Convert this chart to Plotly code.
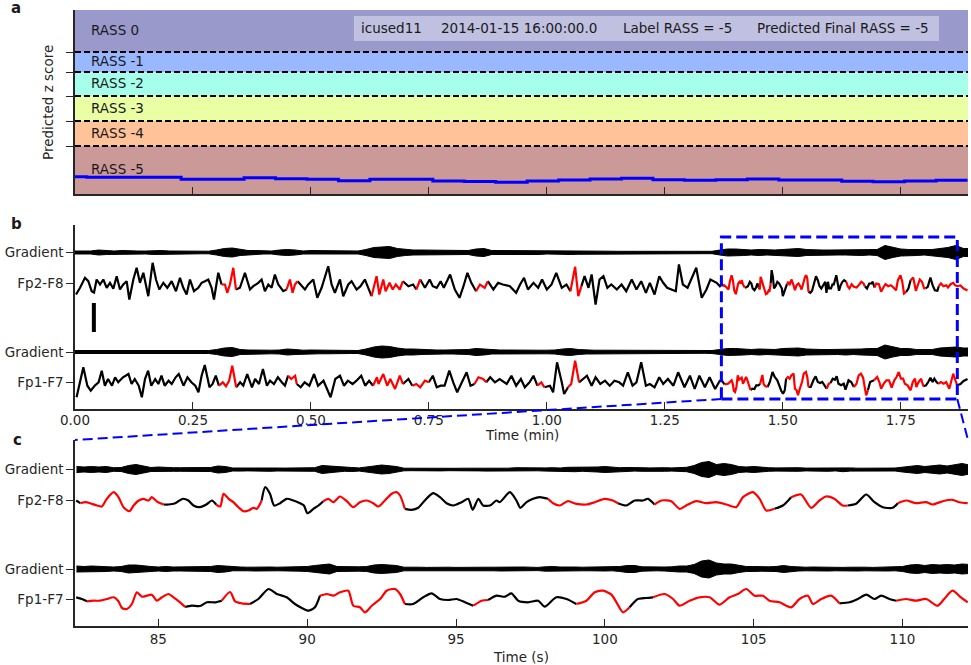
import numpy as np
import plotly.graph_objects as go

W, H = 971, 665
FONT = "DejaVu Sans"
TXT = "#262626"
FS = 13.5

# ---------------- panel a data ----------------
RASS_LABELS = ["RASS 0", "RASS -1", "RASS -2", "RASS -3", "RASS -4", "RASS -5"]
RASS_COLORS = ["#9999CC", "#99B8FF", "#A5FFEA", "#EAFFA4", "#FFC299", "#CC9999"]
Z_BOUNDS = [6.36, 4.68, 3.88, 2.92, 1.92, 0.92, -1.0]   # band edges, top to bottom
Z_LABEL_Y = [5.56, 4.32, 3.44, 2.44, 1.44, 0.0]
Z_STEP_T = [0, 1.5, 5.5, 9.5, 13.5, 17.5, 21.5, 25.5, 29.5, 33.5, 37.5, 41.5, 45.5, 49.5,
            53.5, 57.5, 61.5, 65.5, 69.5, 73.5, 77.5, 81.5, 85.5, 89.5, 93.5, 97.5, 101.5,
            105.5, 109.5]
Z_STEP_V = [-0.31, -0.33, -0.33, -0.33, -0.41, -0.41, -0.35, -0.39, -0.41, -0.47, -0.41,
            -0.41, -0.48, -0.50, -0.53, -0.48, -0.44, -0.40, -0.37, -0.43, -0.45, -0.43,
            -0.40, -0.44, -0.44, -0.49, -0.51, -0.48, -0.45]
T_END = 113.5
INFO_TEXTS = ["icused11", "2014-01-15 16:00:00.0", "Label RASS = -5", "Predicted Final RASS = -5"]

# ---------------- panels b / c data ----------------
CH_NAMES = ["Gradient", "Fp2-F8", "Gradient", "Fp1-F7"]
CH_OFFSETS = [156.5, 125.5, 57, 27]
WIN = (82.2, 112.2)

FP2_B_PRE = [(0.13, -11), (0.64, -4.3), (1.27, 5.7), (1.69, 2.3), (2.12, -7.7), (2.42, -9), (2.75, 4),
             (3.18, -1), (3.60, 4), (4.03, -4.3), (4.45, 0.7), (4.87, -5.3), (5.30, 7.3), (5.72, -6),
             (6.14, -1), (6.57, 2.3), (6.91, -16), (7.42, 4), (7.84, 15.7), (8.26, 0.7), (8.69, 10.7),
             (9.32, -12.7), (9.87, 20.7), (10.30, 4), (10.72, -6), (11.23, 0.7), (11.74, -4.3),
             (12.29, 2.3), (12.84, -7.7), (13.35, 5.7), (13.77, -4.3), (14.19, -11), (14.62, 4),
             (15.13, -7.7), (15.68, -4.3), (16.10, 0.7), (16.53, 2.3), (16.95, 4), (17.37, -4.3),
             (17.67, -16), (18.22, 10.7), (18.64, -1), (19.07, -1), (19.36, -9.3), (19.70, -1),
             (20.13, 15.7), (20.47, -6), (20.97, -4.3), (21.61, 10.7), (22.25, -6), (22.67, -2.7),
             (23.31, 0.7), (23.73, 4), (24.15, -7.7), (24.58, -1), (25.00, -4.3), (25.42, 9),
             (25.85, -1), (26.48, -7.7), (26.91, -6), (27.33, 4), (27.67, -9.3), (27.97, -1),
             (28.31, 2.3), (28.81, -2.7), (29.24, -6), (29.66, -1), (30.30, 4), (30.81, -14.3),
             (31.36, -4.3), (32.20, 17.3), (32.63, -1), (33.05, -9.3), (33.69, 4), (34.11, -12.7),
             (34.75, -1), (35.17, 2.3), (35.81, -6), (36.31, -2.7), (36.86, 4), (37.29, -4.3),
             (37.71, -12.7), (38.35, 7.3),
             (38.7, -11), (39.2, 4), (39.5, -7.7), (40.0, 0.7), (40.4, -6), (40.8, -1), (41.3, -6),
             (41.7, 2.3), (42.4, -2.7), (43.0, -1), (43.4, -6), (43.9, 4), (44.5, -4.3), (45.1, 4),
             (45.5, -2.7), (46.0, -4.3), (46.5, 2.3), (46.9, -4.3), (47.7, 9), (48.3, -6),
             (48.9, -14.3), (49.4, -2.7), (49.9, 10.7), (50.4, 0.7), (51.0, -7.7), (51.5, -1),
             (52.1, -4.3), (52.5, 2.3), (53.2, -6), (53.8, 0.7), (54.4, -1), (55.3, -2.7),
             (56.1, -9.3), (56.6, -1), (57.1, 5.7), (57.6, -6), (58.3, 0.7), (58.9, -4.3), (59.4, 4),
             (60.0, -6), (60.6, -1), (61.2, 10.7), (61.9, -4.3), (62.5, -1), (63.0, -7.7),
             (63.6, 16.7), (64.0, -12.7), (64.4, -2.7), (64.8, 7.3), (65.3, -4.3), (65.7, 9),
             (66.2, -21), (66.7, 4), (67.2, 7.3), (67.7, -4.3), (68.2, -1), (68.9, -6), (69.5, -1),
             (70.1, -7.7), (70.8, 4), (71.4, -6), (72.0, 2.3), (72.6, -9.3), (73.1, 0.7), (73.7, -11),
             (74.3, 7.3), (74.8, 0.7), (75.3, -4.3), (75.8, -6), (76.4, -7.7),
             (76.8, 19), (77.3, -1), (77.9, -4.3), (78.4, 4), (79.0, 15.7), (79.7, -14.3), (80.3, -6),
             (80.8, 4), (81.6, 0.7), (82.0, -2.7)]

FP2_C = [(82.24, 0), (82.38, -2.7), (82.55, -1.7), (82.71, -2.7), (82.94, -5), (83.10, -6), (83.27, 1.7),
         (83.50, 8.3), (83.66, 3.3), (83.83, -6.7), (84.03, -10.7), (84.17, -5), (84.34, 0), (84.50, 1.7),
         (84.67, 0), (84.78, 3.3), (84.95, -1), (85.17, -4), (85.34, -4), (85.57, -2.7), (85.82, 1.7),
         (86.01, 0), (86.18, -5), (86.40, -6.7), (86.61, -4), (86.80, 0), (86.94, -4), (87.08, -6),
         (87.19, 6.7), (87.36, 1.7), (87.52, -1.7), (87.69, -6.7), (87.86, -10.7), (88.03, -10),
         (88.19, -7.3), (88.31, -8.3), (88.47, 0), (88.59, 13.3), (88.75, 6.7), (88.89, -5),
         (89.09, -2.7), (89.31, 1.7), (89.54, 0), (89.76, -2.7), (89.89, -5), (90.01, -12.7),
         (90.21, -8.3), (90.38, -5), (90.54, -0.7), (90.71, 1.7), (90.88, -1.7), (91.10, 4),
         (91.33, -0.7), (91.55, -6.7), (91.77, -1.7), (92.00, 0), (92.22, -2.7), (92.39, -6),
         (92.61, 0), (92.84, 6.7), (93.00, 8.3), (93.12, 5), (93.28, -8.3), (93.51, -9.3),
         (93.73, -7.3), (93.95, 0), (94.23, 7.3), (94.46, 3.3), (94.68, -2.7), (94.91, -5),
         (95.19, -1.7), (95.41, 1.7), (95.56, -9.3), (95.75, 1.7), (95.91, -5), (96.14, -5),
         (96.36, 0), (96.47, -1.7), (96.81, 8.3), (97.03, 0), (97.16, -7.3), (97.37, -1.7),
         (97.59, 1.7), (97.81, 3.3), (98.09, 1.7), (98.26, -2.7), (98.48, -5), (98.76, -0.7),
         (99.04, -3.3), (99.38, -4), (99.66, -1.7), (99.99, 1.7), (100.27, 0), (100.44, -2.7),
         (100.72, -5), (101.00, 0), (101.28, 0), (101.45, 1.7), (101.67, -4), (101.90, 0),
         (102.23, -0.7), (102.51, -8.3), (102.79, -4), (103.07, -0.7), (103.41, -2.7), (103.74, -1.7),
         (104.08, -4), (104.41, -6.7), (104.64, 3.3), (104.97, 8.3), (105.20, 1.7), (105.42, -10),
         (105.70, -8.3), (105.98, -5), (106.26, 3.3), (106.59, 6), (106.93, -7.3), (107.21, 0),
         (107.43, 4), (107.71, 1.7), (107.99, -5), (108.16, -5), (108.44, -3.3), (108.78, 6),
         (109.06, -1.7), (109.34, -6.7), (109.67, -7.3), (109.84, -2.7), (110.12, 0), (110.45, -2.7),
         (110.79, -1.7), (111.01, -4), (111.35, -0.7), (111.68, 0.7), (111.91, -1.7), (112.19, -2.7)]
FP2_B_TAIL = [(112.6, -2), (113.0, -5), (113.5, -7)]

FP1_B_PRE = [(0.2, -15.3), (1.06, 14.7), (1.57, -3.7), (2.0, -8.7), (2.5, -3.7), (3.0, -0.3), (3.4, 11.3),
             (3.8, -3.7), (4.2, 3), (4.7, -3.7), (5.1, 4.7), (5.5, -0.3), (6.1, 4.7), (6.8, 8), (7.2, -2),
             (7.6, 3), (8.1, -3.7), (8.5, -15.3), (8.9, 3), (9.3, 11.3), (9.7, -3.7), (10.2, 3), (10.6, -2),
             (11.0, 6.3), (11.4, -3.7), (11.9, 1.3), (12.3, -2), (12.8, 4.7), (13.2, 8), (13.8, -3.7),
             (14.3, 4.7), (14.8, -0.3), (15.3, -3.7), (15.7, -10.3), (16.1, 6.3), (16.5, 17), (17.1, -5.3),
             (17.5, -2), (17.9, 6.3), (18.3, -3.7), (18.8, -0.3), (19.2, -4.3), (19.6, 1.3), (20.0, 16.3),
             (20.5, -5.3), (21.0, -0.3), (21.4, -3.7), (21.9, 8), (22.5, -5.3), (22.9, 3), (23.4, -2),
             (23.9, 13), (24.4, -3.7), (24.8, 1.3), (25.3, -2), (25.8, 4.7), (26.3, -0.3), (26.7, -3.7),
             (27.1, 6.3), (27.5, 3), (28.0, 6.3), (28.2, -2), (28.7, -5.3), (29.2, -0.3), (29.8, -3.7),
             (30.4, 8), (30.9, -3.7), (31.6, 1.3), (32.0, -7), (32.5, -15.3), (33.1, 3), (33.7, 6.3),
             (34.2, -3.7), (34.7, 1.3), (35.3, -2), (35.8, 1.3), (36.4, 6.3), (36.9, -3.7), (37.4, 1.3),
             (37.9, -3.7), (38.4, 4.7),
             (38.6, -2), (39.2, 8), (39.7, -3.7), (40.1, 3), (40.7, -7), (41.3, 6.3), (41.7, -2), (42.4, 3),
             (42.9, -3.7), (43.4, -2), (43.9, -5.3), (44.5, 1.3), (45.0, -0.3), (45.5, 6.3), (46.0, -5.3),
             (46.5, -3.7), (47.0, -3.7), (47.6, 11.3), (48.1, -0.3), (48.6, -10.3), (49.2, -0.3),
             (49.8, 9.7), (50.3, -3.7), (50.8, -2), (51.3, 4.7), (51.9, 3), (52.3, -0.3), (52.8, 4.7),
             (53.4, -0.3), (54.0, 3), (54.9, -2), (55.5, 6.3), (56.1, -3.7), (56.7, 3), (57.2, -5.3),
             (57.8, -0.3), (58.3, 6.3), (58.8, -3.7), (59.3, -0.3), (59.7, -5.3), (60.4, -3.7),
             (60.8, -10.3), (61.3, 19.7), (61.9, -0.3), (62.2, -12), (62.7, -5.3), (63.1, -2),
             (63.6, 21.3), (64.1, -0.3), (64.6, 3), (65.1, 6.3), (65.7, -3.7), (66.2, 4.7), (66.8, -2),
             (67.4, 1.3), (68.0, -3.7), (68.6, 1.3), (69.2, -0.3), (69.7, -3.7), (70.3, 9.7), (70.9, -3.7),
             (71.4, -0.3), (72.0, 19.7), (72.6, -3.7), (73.1, -2), (73.7, -5.3), (74.3, 4.7), (74.8, -2),
             (75.4, 3), (76.1, -3.7), (76.7, 9.7),
             (77.5, -5.3), (78.2, 6.3), (78.8, -7), (79.4, 6.3), (80.1, -5.3), (80.7, 4.7), (81.4, -7),
             (82.0, 1.3)]

FP1_C = [(82.24, 1.6), (82.43, 0), (82.60, -2.3), (82.83, -1.7), (83.05, -1.7), (83.27, 0), (83.50, 1.7),
         (83.66, -2.3), (83.78, -9), (83.94, -10), (84.11, -5), (84.28, 6.7), (84.45, 2.3), (84.61, 3.3),
         (84.78, 4.3), (84.95, -1.7), (85.12, 1.7), (85.34, 5), (85.51, 1.7), (85.73, -3.3), (85.90, -8),
         (86.12, -6.7), (86.40, -7), (86.63, -3.3), (86.91, -3.3), (87.13, -1.7), (87.41, 7),
         (87.58, -2.3), (87.80, -4.3), (88.08, -5), (88.36, 0), (88.70, 10), (88.98, 5), (89.31, 1.7),
         (89.59, -5), (89.82, -9), (90.04, -11.7), (90.26, -8.3), (90.43, 3.3), (90.66, 5),
         (90.88, 3.3), (91.10, 6.7), (91.38, 8.3), (91.55, -6.7), (91.77, -8.3), (91.94, -13.3),
         (92.17, -6.7), (92.45, 0), (92.67, 8.3), (92.95, 10), (93.12, 5), (93.28, -5), (93.56, -5),
         (93.90, 1.7), (94.18, 5.7), (94.46, 0), (94.74, -1), (95.02, 0), (95.30, -3.3), (95.58, -6.7),
         (95.86, -1.7), (96.08, -1), (96.36, 3.3), (96.64, 2.3), (96.86, 5.7), (97.09, -1.7),
         (97.42, -3.3), (97.76, -1.7), (97.98, -7.7), (98.37, 1.7), (98.71, 0), (99.04, -5),
         (99.38, -1.7), (99.66, 6.7), (99.94, 8.3), (100.22, 4.3), (100.39, -3.3), (100.61, -13.3),
         (100.83, -8.3), (101.11, 0), (101.39, 1), (101.62, 1.7), (102.01, 5), (102.29, 0),
         (102.51, -6.7), (102.85, -1.7), (103.18, 1.7), (103.52, 1.7), (103.85, -5.7), (104.19, 1.7),
         (104.47, 5), (104.75, 10), (105.03, 3.3), (105.31, 3.3), (105.53, -1.7), (105.87, -3.3),
         (106.26, -8.3), (106.54, 0), (106.82, 3.3), (106.99, -5), (107.27, 0), (107.60, 3.3),
         (107.88, -4.3), (108.22, -3.3), (108.50, 0), (108.78, 4.3), (109.06, 0), (109.28, 3.3),
         (109.56, 0), (109.78, -1.7), (110.12, 0), (110.45, -1.7), (110.79, 0), (111.18, -6.7),
         (111.40, 0), (111.68, 8.3), (111.96, 1.7), (112.19, -3.3)]
FP1_B_TAIL = [(112.6, -2), (113.0, 1), (113.5, 3)]

FP2_RED = [(18.6, 20.5), (27.0, 28.3), (37.7, 41.9), (43.4, 44.0), (50.8, 52.5), (63.3, 64.2),
           (82.4, 85.2), (86.95, 88.45), (90.54, 93.28), (98.09, 100.44), (101.67, 105.70),
           (106.26, 108.16), (109.84, 113.5)]
FP1_RED = [(18.5, 20.6), (27.0, 28.2), (37.7, 41.8), (43.0, 45.0), (50.6, 52.4), (58.9, 59.7),
           (62.7, 64.1), (82.6, 85.9), (87.13, 88.1), (90.43, 93.28), (95.65, 96.02), (99.0, 100.75),
           (101.62, 107.88), (109.78, 112.3)]

# gradient envelopes (half-width), panel b: one value per second from 0 s
GRAD1_B_ENV = [1.5, 1.5, 1.5, 2.5, 2, 1.5, 2, 1.5, 1.5, 1.5, 2, 2, 1.5, 1.5, 1.5, 1.5, 1.3, 1.3, 2.5, 4,
               4.5, 3, 2, 2, 1.5, 1.5, 2.5, 3, 2.5, 1.5, 2, 2, 1.5, 1.5, 1.5, 1.5, 1.5, 3, 5, 5.5,
               6, 4, 3, 2.5, 2.5, 2.5, 2, 2, 2, 2, 2, 3.5, 4, 2, 2, 1.8, 1.8, 1.5, 2, 2,
               1.5, 1.5, 1.8, 2, 1.8, 1.5, 1.5, 1.3, 1.3, 1.2, 1.2, 1.2, 1.2, 1.2, 1.2, 1.2, 1.2, 1.2, 1.2, 1.2,
               1.2, 1.2, 2.5, 3.5, 3.5, 3, 2.5, 3, 2.5, 2.5, 3, 3.5, 4, 3, 2.5, 2.5, 2.5, 2.5, 2.5, 2.5,
               3, 2.5, 3, 7, 5, 3.5, 3, 3, 2.5, 3, 4, 5, 7, 4, 4]
GRAD2_B_ENV = [1.5, 1.5, 1.5, 2, 1.8, 1.5, 1.5, 1.5, 1.5, 1.5, 2, 2, 1.5, 1.5, 1.5, 1.5, 1.5, 1.5, 2.5, 4,
               4.5, 2.5, 2, 1.8, 1.8, 1.8, 2, 3, 2.5, 1.8, 2, 1.8, 1.8, 1.8, 1.8, 1.5, 1.5, 3, 5, 6,
               5.5, 4, 3, 3, 2.5, 2.5, 2, 2, 2, 2, 2.5, 3.5, 3, 2, 2, 2, 1.8, 1.8, 1.8, 1.8,
               1.8, 2, 3, 3.5, 2.5, 2, 1.8, 1.8, 1.8, 1.8, 1.8, 1.8, 1.8, 1.5, 1.5, 1.3, 1.3, 1.3, 1.3, 1.3,
               1.3, 1.5, 2.5, 3.5, 3.5, 3, 2.5, 3, 2.5, 2.5, 3.5, 3.5, 4, 3, 2.5, 2.5, 2.5, 2.5, 3, 2.5,
               3, 3.5, 3.5, 7, 5, 3.5, 3.5, 2.5, 2.5, 2.5, 4, 4.5, 5, 4, 4]
GRAD_B_T0, GRAD_B_DT = 0.0, 1.0

# gradient envelopes, panel c: one value per 0.25 s from 82.25 s
GRAD1_C_ENV = [3, 2.5, 3, 2.5, 3, 1.8, 2, 4, 5, 3.5, 2, 2.5, 2, 1.8, 1.8, 1.8, 1.6, 1.8, 2, 3.5, 3,
               1.5, 1.6, 1.4, 1.6, 1.5, 1.8, 1.5, 1.4, 1.6, 1.5, 1.6, 1.8, 4, 3.5, 2.5, 1.8, 2, 1.6, 2.2,
               3.5, 4.5, 4, 3, 1.3, 1.2, 1.2, 1.3, 1.2, 1.4, 1.2, 1.2, 1.3, 1.2, 1.4,
               1.6, 1.4, 1.5, 1.3, 1.8, 1.6, 1.4, 1.3, 1.6, 1.8, 1.5, 2.2, 2.2, 1.8, 1.8, 2.5, 3, 2.2,
               1.8, 2, 1.6, 1.8, 1.6, 2, 1.8, 1.6, 1.8, 2.2, 4, 7, 8, 5, 6, 5, 3, 2.5, 3, 2.2, 1.8,
               1.6, 1.8, 1.5, 1.8, 1.4, 1.5, 1.6, 1.8, 1.4, 2.2, 1.6, 1.3, 1.5, 1.3, 1.6, 1.4, 1.5,
               2.5, 3.5, 4, 3, 4, 4.5, 3.5, 5, 6, 4.5]
GRAD2_C_ENV = [3, 2.5, 3, 2.5, 2.5, 2, 2.5, 4, 4, 3, 2.5, 2, 2.5, 2, 2, 2.3, 2, 2.2, 2.5, 3.5, 3,
               1.8, 2, 1.8, 2, 1.8, 2, 1.8, 1.9, 1.8, 2.2, 2.5, 3.5, 4, 5, 2.5, 2.2, 2.4, 2.2, 2.5,
               4, 4.5, 4, 3.5, 1.8, 2, 1.8, 1.6, 1.8, 2, 1.8, 1.6, 1.8, 2, 1.8,
               1.8, 1.8, 2, 1.8, 1.8, 2, 1.8, 1.6, 2.2, 2.5, 2, 2.2, 2, 1.8, 1.8, 2.2, 2, 1.8,
               2.5, 3.5, 3.5, 2.2, 2, 1.8, 2, 2.2, 3, 3, 4.5, 8, 9, 6, 5, 5, 3.5, 2.5, 2.5, 2.2, 2.2,
               2.5, 3.5, 2.5, 2, 1.8, 2, 1.8, 2, 1.8, 1.6, 1.8, 2, 1.8, 1.6, 1.8, 2, 1.8,
               2.5, 4, 4.5, 3.5, 4.5, 4, 4.5, 4, 5, 4.5]
GRAD_C_T0, GRAD_C_DT = 82.25, 0.25

SCALE_BAR_T = 2.4          # s
SCALE_BAR_Y = (77, 106)    # panel b units
BOX_Y = (10, 172)          # panel b units

B_XMAX = 113.56 / 60.0
A_YRANGE = [-1.0, 6.36]
B_YRANGE = [0, 184]
C_YRANGE = [0, 186]
C_XRANGE = [WIN[0], WIN[1]]

# ---------------- layout geometry ----------------
XD = [75 / W, 968 / W]
YD_A = [1 - 194 / H, 1 - 10 / H]
YD_B = [1 - 409 / H, 1 - 225 / H]
YD_C = [1 - 626 / H, 1 - 440 / H]


def px(x):
    return x / W


def py(y):
    return 1 - y / H


def to_paper(v, rng, dom):
    return dom[0] + (v - rng[0]) / (rng[1] - rng[0]) * (dom[1] - dom[0])


def split_parts(t, v, intervals, want_red):
    t = list(t); v = list(v)
    xs, ys = [], []
    for i in range(len(t) - 1):
        mid = 0.5 * (t[i] + t[i + 1])
        red = any(a <= mid <= b for a, b in intervals)
        if red == want_red:
            if not xs or xs[-1] is None:
                xs.append(t[i]); ys.append(v[i])
            xs.append(t[i + 1]); ys.append(v[i + 1])
        elif xs and xs[-1] is not None:
            xs.append(None); ys.append(None)
    return xs, ys


fig = go.Figure()

# ---- panel a trace
za_t = np.array(Z_STEP_T + [T_END]) / 60.0
za_v = Z_STEP_V + [Z_STEP_V[-1]]
fig.add_trace(go.Scatter(x=za_t, y=za_v, mode="lines", line=dict(color="#0000FF", width=3, shape="hv"),
                         xaxis="x", yaxis="y", hoverinfo="skip"))


def add_grad(env, t0, dt, off, xa, ya, scale, lw):
    env = np.array(env, float)
    t = (t0 + dt * np.arange(len(env))) * scale
    x = np.concatenate([t, t[::-1]])
    y = np.concatenate([off + env, (off - env)[::-1]])
    fig.add_trace(go.Scatter(x=x, y=y, mode="lines", fill="toself", fillcolor="black",
                             line=dict(color="black", width=lw), xaxis=xa, yaxis=ya, hoverinfo="skip"))


def add_eeg(pairs, intervals, off, xa, ya, scale, shape):
    t = np.array([p[0] for p in pairs]) * scale
    v = np.array([p[1] for p in pairs]) + off
    iv = [(a * scale, b * scale) for a, b in intervals]
    for want_red, col in ((False, "black"), (True, "#FF0000")):
        xs, ys = split_parts(t, v, iv, want_red)
        ln = dict(color=col, width=2.2, shape=shape)
        if shape == "spline":
            ln["smoothing"] = 0.7
        fig.add_trace(go.Scatter(x=xs, y=ys, mode="lines", line=ln, xaxis=xa, yaxis=ya,
                                 hoverinfo="skip", connectgaps=False))


# ---- panel b
sc = 1 / 60.0
add_grad(GRAD1_B_ENV, GRAD_B_T0, GRAD_B_DT, CH_OFFSETS[0], "x2", "y2", sc, 1)
add_grad(GRAD2_B_ENV, GRAD_B_T0, GRAD_B_DT, CH_OFFSETS[2], "x2", "y2", sc, 1)
add_eeg(FP2_B_PRE + FP2_C + FP2_B_TAIL, FP2_RED, CH_OFFSETS[1], "x2", "y2", sc, "linear")
add_eeg(FP1_B_PRE + FP1_C + FP1_B_TAIL, FP1_RED, CH_OFFSETS[3], "x2", "y2", sc, "linear")
fig.add_trace(go.Scatter(x=[SCALE_BAR_T * sc, SCALE_BAR_T * sc], y=list(SCALE_BAR_Y), mode="lines",
                         line=dict(color="black", width=4), xaxis="x2", yaxis="y2", hoverinfo="skip"))

# ---- panel c
add_grad(GRAD1_C_ENV, GRAD_C_T0, GRAD_C_DT, CH_OFFSETS[0], "x3", "y3", 1.0, 1)
add_grad(GRAD2_C_ENV, GRAD_C_T0, GRAD_C_DT, CH_OFFSETS[2], "x3", "y3", 1.0, 1)
add_eeg(FP2_C, FP2_RED, CH_OFFSETS[1], "x3", "y3", 1.0, "spline")
add_eeg(FP1_C, FP1_RED, CH_OFFSETS[3], "x3", "y3", 1.0, "spline")

shapes = []
# bands in panel a
for i, col in enumerate(RASS_COLORS):
    shapes.append(dict(type="rect", xref="paper", yref="y", x0=XD[0], x1=XD[1],
                       y0=Z_BOUNDS[i + 1], y1=Z_BOUNDS[i], fillcolor=col, line=dict(width=0), layer="below"))
for yb in Z_BOUNDS[1:-1]:
    shapes.append(dict(type="line", xref="paper", yref="y", x0=XD[0], x1=XD[1], y0=yb, y1=yb,
                       line=dict(color="black", width=2, dash="6px,3px")))
# info box
shapes.append(dict(type="rect", xref="paper", yref="paper", x0=px(354), x1=px(939), y0=py(41), y1=py(16),
                   fillcolor="#C0C0E0", line=dict(width=0)))
# zoom box in panel b
shapes.append(dict(type="rect", xref="x2", yref="y2", x0=WIN[0] / 60, x1=WIN[1] / 60, y0=BOX_Y[0], y1=BOX_Y[1],
                   line=dict(color="#0000FF", width=3, dash="11px,5px")))
# connectors
bx0 = to_paper(WIN[0] / 60, [0, B_XMAX], XD)
bx1 = to_paper(WIN[1] / 60, [0, B_XMAX], XD)
by = to_paper(BOX_Y[0], B_YRANGE, YD_B)
shapes.append(dict(type="line", xref="paper", yref="paper", x0=bx0, y0=by, x1=XD[0], y1=YD_C[1],
                   line=dict(color="#0000FF", width=2, dash="10px,5px")))
shapes.append(dict(type="line", xref="paper", yref="paper", x0=bx1, y0=by, x1=XD[1], y1=YD_C[1],
                   line=dict(color="#0000FF", width=2, dash="10px,5px")))

ann = []
for lab, yv in zip(RASS_LABELS, Z_LABEL_Y):
    ann.append(dict(text=lab, xref="x", yref="y", x=14 / 471.8, y=yv, xanchor="left", yanchor="middle",
                    showarrow=False, font=dict(family=FONT, size=FS, color="#1a1a1a")))
for txt, xp in zip(INFO_TEXTS, [359, 439, 621, 755]):
    ann.append(dict(text=txt, xref="paper", yref="paper", x=px(xp), y=py(28.5), xanchor="left",
                    yanchor="middle", showarrow=False, font=dict(family=FONT, size=FS, color="#1a1a1a")))
for lab, (xx, yy) in zip(["a", "b", "c"], [(16, 8), (16, 224), (17, 440)]):
    ann.append(dict(text="<b>%s</b>" % lab, xref="paper", yref="paper", x=px(xx), y=py(yy),
                    xanchor="center", yanchor="middle", showarrow=False,
                    font=dict(family=FONT, size=15, color="#1a1a1a")))
ann.append(dict(text="Predicted z score", xref="paper", yref="paper", x=px(47.5), y=py(102.5), textangle=-90,
                xanchor="center", yanchor="middle", showarrow=False, font=dict(family=FONT, size=FS, color=TXT)))
ann.append(dict(text="Time (min)", xref="paper", yref="paper", x=px(521.5), y=py(435), xanchor="center",
                yanchor="middle", showarrow=False, font=dict(family=FONT, size=FS, color=TXT)))
ann.append(dict(text="Time (s)", xref="paper", yref="paper", x=px(521), y=py(657), xanchor="center",
                yanchor="middle", showarrow=False, font=dict(family=FONT, size=FS, color=TXT)))

axis_common = dict(showgrid=False, zeroline=False, showline=True, linecolor=TXT, linewidth=1.6,
                   tickcolor=TXT, tickwidth=1.2, ticklen=7, automargin=False,
                   tickfont=dict(family=FONT, size=FS, color=TXT))
b_ticks = [0, 0.25, 0.5, 0.75, 1.0, 1.25, 1.5, 1.75]

fig.update_layout(
    width=W, height=H, margin=dict(l=0, r=0, t=0, b=0, autoexpand=False), paper_bgcolor="white",
    plot_bgcolor="rgba(0,0,0,0)",
    showlegend=False, shapes=shapes, annotations=ann, font=dict(family=FONT, color=TXT),
    xaxis=dict(domain=XD, range=[0, B_XMAX], anchor="y", tickvals=b_ticks, showticklabels=False,
               ticks="inside", **axis_common),
    yaxis=dict(domain=YD_A, range=A_YRANGE, anchor="x", tickvals=Z_BOUNDS[1:-1], showticklabels=False,
               ticks="outside", **axis_common),
    xaxis2=dict(domain=XD, range=[0, B_XMAX], anchor="y2", tickvals=b_ticks, ticklabelstandoff=-2,
                ticktext=["%.2f" % v for v in b_ticks], ticks="inside", **axis_common),
    yaxis2=dict(domain=YD_B, range=B_YRANGE, anchor="x2", tickvals=CH_OFFSETS, ticktext=CH_NAMES,
                ticks="outside", **axis_common),
    xaxis3=dict(domain=XD, range=C_XRANGE, anchor="y3", tickvals=[85, 90, 95, 100, 105, 110],
                ticks="inside", **axis_common),
    yaxis3=dict(domain=YD_C, range=C_YRANGE, anchor="x3", tickvals=CH_OFFSETS, ticktext=CH_NAMES,
                ticks="outside", **axis_common),
)

fig.write_html("out.html")
